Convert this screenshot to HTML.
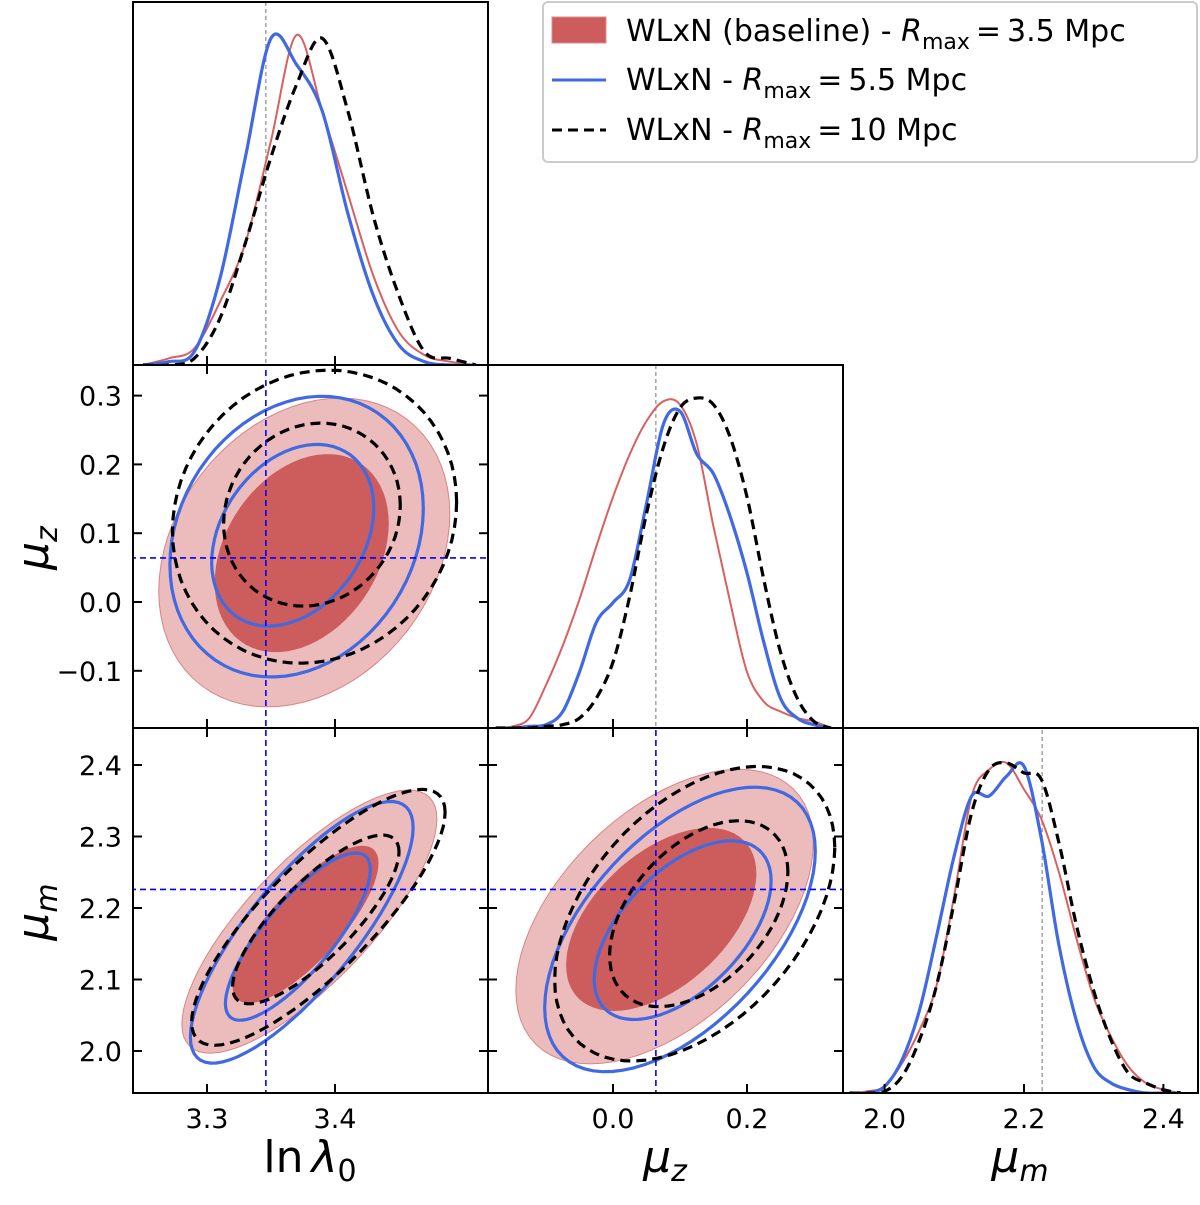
<!DOCTYPE html>
<html><head><meta charset="utf-8"><style>
html,body{margin:0;padding:0;background:#fff;}
svg{display:block;font-family:"DejaVu Sans","Liberation Sans",sans-serif;}
</style></head><body>
<svg id="c" width="1200" height="1205" viewBox="0 0 1200 1205" xmlns="http://www.w3.org/2000/svg">
<defs>
<clipPath id="cp11"><rect x="133" y="2" width="355" height="363"/></clipPath>
<clipPath id="cp21"><rect x="133" y="365" width="355" height="363"/></clipPath>
<clipPath id="cp22"><rect x="488" y="365" width="355" height="363"/></clipPath>
<clipPath id="cp31"><rect x="133" y="728" width="355" height="365"/></clipPath>
<clipPath id="cp32"><rect x="488" y="728" width="355" height="365"/></clipPath>
<clipPath id="cp33"><rect x="843" y="728" width="355" height="365"/></clipPath>
</defs>
<g id="layer"></g>
<g>
<rect x="543" y="2" width="654" height="160" rx="5" fill="#fff" stroke="#cccccc" stroke-width="2"/>
<rect x="552" y="17" width="54" height="26" fill="#cd5c5c" stroke="#e08888"/>
<line x1="552" y1="80" x2="606" y2="80" stroke="#4169e1" stroke-width="3"/>
<line x1="552" y1="130" x2="606" y2="130" stroke="#000" stroke-width="3" stroke-dasharray="10,6"/>
<text x="626" y="41" font-size="30">WLxN (baseline) - <tspan font-style="italic">R</tspan><tspan font-size="22" dy="8">max</tspan><tspan dy="-8" dx="6">=</tspan><tspan dx="6">3.5 Mpc</tspan></text>
<text x="626" y="90" font-size="30">WLxN - <tspan font-style="italic">R</tspan><tspan font-size="22" dy="8">max</tspan><tspan dy="-8" dx="6">=</tspan><tspan dx="6">5.5 Mpc</tspan></text>
<text x="626" y="140" font-size="30">WLxN - <tspan font-style="italic">R</tspan><tspan font-size="22" dy="8">max</tspan><tspan dy="-8" dx="6">=</tspan><tspan dx="6">10 Mpc</tspan></text>
</g>
</svg>
<script>
// ---- data ----
const truthLnL = 3.346;
const truthMuZ = 0.064;
const truthMuM = 2.226;
// 1D marginal grids & densities
const gridLnL = [3.25,3.27,3.29,3.31,3.33,3.35,3.37,3.39,3.41,3.43,3.45,3.47,3.49,3.51];
const lnlRed   = [0,0.02,0.05,0.19,0.37,0.68,1.0,0.77,0.52,0.27,0.10,0.03,0.01,0];
const lnlBlue  = [0,0.01,0.04,0.26,0.63,0.99,0.91,0.77,0.46,0.21,0.06,0.01,0,0];
const lnlBlack = [0,0,0.02,0.14,0.37,0.63,0.85,0.99,0.77,0.45,0.21,0.04,0.02,0];
const gridMuZ = [-0.175,-0.15,-0.125,-0.1,-0.075,-0.05,-0.025,0,0.025,0.05,0.075,0.1,0.125,0.15,0.175,0.2,0.225,0.25,0.275,0.3,0.325];
const muzRed   = [0,0.005,0.03,0.13,0.25,0.39,0.55,0.70,0.83,0.93,0.99,0.98,0.86,0.61,0.38,0.17,0.08,0.05,0.03,0.02,0];
const muzBlue  = [0,0,0.005,0.01,0.05,0.17,0.32,0.38,0.45,0.68,0.92,0.96,0.83,0.77,0.64,0.47,0.26,0.09,0.03,0.01,0];
const muzBlack = [0,0,0,0.005,0.01,0.03,0.09,0.2,0.4,0.65,0.85,0.97,1.0,0.98,0.88,0.70,0.45,0.23,0.09,0.02,0];
const gridMuM = [1.95,1.975,2.0,2.025,2.05,2.075,2.1,2.125,2.15,2.175,2.2,2.225,2.25,2.275,2.3,2.325,2.35,2.375,2.4,2.425];
const mumRed   = [0,0.005,0.02,0.09,0.19,0.33,0.6,0.9,0.98,1.0,0.92,0.83,0.67,0.47,0.29,0.17,0.08,0.03,0.01,0];
const mumBlue  = [0,0,0.02,0.1,0.25,0.48,0.72,0.9,0.9,0.96,0.99,0.77,0.45,0.22,0.08,0.03,0.01,0,0,0];
const mumBlack = [0,0,0.005,0.05,0.16,0.33,0.58,0.85,0.98,1.0,0.97,0.95,0.76,0.51,0.31,0.16,0.06,0.03,0.01,0];
// 2D contours: [centerX, centerY, halfExtentX, halfExtentY, correlation]
const aRedOuter=[3.376,0.072,0.1137,0.2245,0.25], aRedInner=[3.374,0.071,0.068,0.144,0.3];
const aBlueOuter=[3.370,0.095,0.099,0.204,0.2], aBlueInner=[3.367,0.097,0.0633,0.132,0.3];
const aBlackOuter=[3.384,0.124,0.111,0.213,0.1], aBlackInner=[3.382,0.127,0.069,0.133,0.1];
const bRedOuter=[3.380,2.181,0.0996,0.184,0.78], bRedInner=[3.377,2.177,0.057,0.110,0.78];
const bBlueOuter=[3.374,2.166,0.087,0.183,0.8], bBlueInner=[3.371,2.160,0.0566,0.117,0.8];
const bBlackOuter=[3.387,2.187,0.099,0.179,0.82], bBlackInner=[3.385,2.184,0.065,0.118,0.8];
const cRedOuter=[0.077,2.188,0.222,0.206,0.5], cRedInner=[0.072,2.184,0.142,0.128,0.5];
const cBlueOuter=[0.100,2.170,0.202,0.199,0.55], cBlueInner=[0.104,2.169,0.132,0.125,0.55];
const cBlackOuter=[0.122,2.192,0.209,0.206,0.45], cBlackInner=[0.128,2.192,0.133,0.130,0.45];
// ticks
const ticksLnL=[3.3,3.4], ticksLnLLabels=["3.3","3.4"];
const ticksMuZ=[-0.1,0.0,0.1,0.2,0.3], ticksMuZLabels=["\u22120.1","0.0","0.1","0.2","0.3"];
const ticksMuZx=[0.0,0.2], ticksMuZxLabels=["0.0","0.2"];
const ticksMuM=[2.0,2.1,2.2,2.3,2.4], ticksMuMLabels=["2.0","2.1","2.2","2.3","2.4"];
const ticksMuMx=[2.0,2.2,2.4], ticksMuMxLabels=["2.0","2.2","2.4"];

// ---- axes ----
const xL=v=>207+(v-3.3)*1280;
const xZ=v=>613+v*670;
const xM=v=>1024+(v-2.2)*697;
const yZ=v=>602-v*688;
const yM=v=>908-(v-2.2)*715;
const yD=(b)=>d=>b-d*330;

const NS="http://www.w3.org/2000/svg";
const layer=document.getElementById('layer');
function mk(tag,attrs,parent){const e=document.createElementNS(NS,tag);for(const k in attrs)e.setAttribute(k,attrs[k]);(parent||layer).appendChild(e);return e;}

function smoothPath(pts){
  let d=`M${pts[0][0].toFixed(1)},${pts[0][1].toFixed(1)}`;
  for(let i=0;i<pts.length-1;i++){
    const p0=pts[Math.max(0,i-1)],p1=pts[i],p2=pts[i+1],p3=pts[Math.min(pts.length-1,i+2)];
    const c1=[p1[0]+(p2[0]-p0[0])/6,p1[1]+(p2[1]-p0[1])/6];
    const c2=[p2[0]-(p3[0]-p1[0])/6,p2[1]-(p3[1]-p1[1])/6];
    d+=`C${c1[0].toFixed(1)},${c1[1].toFixed(1)} ${c2[0].toFixed(1)},${c2[1].toFixed(1)} ${p2[0].toFixed(1)},${p2[1].toFixed(1)}`;
  }
  return d;
}
function ellipsePath(p,fx,fy){
  const [cx,cy,hx,hy,r]=p;const s=Math.sqrt(1-r*r);let d='';
  for(let i=0;i<=72;i++){const t=i/72*2*Math.PI;
    const x=fx(cx+hx*Math.cos(t)), y=fy(cy+hy*(r*Math.cos(t)+s*Math.sin(t)));
    d+=(i?'L':'M')+x.toFixed(1)+','+y.toFixed(1);}
  return d+'Z';
}
const STY={
  red:{stroke:'#d9605f','stroke-width':2,fill:'none'},
  blue:{stroke:'#4169e1','stroke-width':3.2,fill:'none'},
  black:{stroke:'#000','stroke-width':3.2,fill:'none','stroke-dasharray':'10,6'}
};

function panel1D(clip,name,grid,series,fx,bottom,truthX){
  const g=mk('g',{'clip-path':`url(#${clip})`});
  
  
  const tl=mk('line',{x1:fx(truthX),x2:fx(truthX),y1:bottom-370,y2:bottom,stroke:'#777','stroke-width':1,'stroke-dasharray':'4,3'},g);
  
  
  const fy=yD(bottom);
  series.forEach(([key,vals])=>{
    const pts=grid.map((x,i)=>[fx(x),fy(vals[i])]);
    const p=mk('path',Object.assign({d:smoothPath(pts)},STY[key]),g);
    
    
  });
}
function panel2D(clip,name,fx,fy,red,blue,black,tx,ty){
  const g=mk('g',{'clip-path':`url(#${clip})`});
  
  
  const ro=mk('path',{d:ellipsePath(red[0],fx,fy),fill:'#ecbcbc',stroke:'#d98484','stroke-width':1},g);
  
  
  const ri=mk('path',{d:ellipsePath(red[1],fx,fy),fill:'#cd5c5c',stroke:'none'},g);
  
  
  [['blue',blue],['black',black]].forEach(([k,arr])=>{
    arr.forEach((c,i)=>{
      const p=mk('path',Object.assign({d:ellipsePath(c,fx,fy)},STY[k]),g);
      
      
    });
  });
  if(tx!==null){const l=mk('line',{x1:fx(tx),x2:fx(tx),y1:0,y2:1200,stroke:'#0000ff','stroke-width':1.6,'stroke-dasharray':'6,4'},g);
    
    }
  if(ty!==null){const l=mk('line',{x1:0,x2:1200,y1:fy(ty),y2:fy(ty),stroke:'#0000ff','stroke-width':1.6,'stroke-dasharray':'6,4'},g);
    
    }
}

panel1D('cp11','panel-lnlambda-1d',gridLnL,[['red',lnlRed],['blue',lnlBlue],['black',lnlBlack]],xL,365,truthLnL);
panel1D('cp22','panel-muz-1d',gridMuZ,[['red',muzRed],['blue',muzBlue],['black',muzBlack]],xZ,728,truthMuZ);
panel1D('cp33','panel-mum-1d',gridMuM,[['red',mumRed],['blue',mumBlue],['black',mumBlack]],xM,1093,truthMuM);
panel2D('cp21','panel-lnlambda-muz',xL,yZ,[aRedOuter,aRedInner],[aBlueOuter,aBlueInner],[aBlackOuter,aBlackInner],truthLnL,truthMuZ);
panel2D('cp31','panel-lnlambda-mum',xL,yM,[bRedOuter,bRedInner],[bBlueOuter,bBlueInner],[bBlackOuter,bBlackInner],truthLnL,truthMuM);
panel2D('cp32','panel-muz-mum',xZ,yM,[cRedOuter,cRedInner],[cBlueOuter,cBlueInner],[cBlackOuter,cBlackInner],truthMuZ,truthMuM);

// frames & ticks
const boxes=[[133,2,488,365,'frame-lnlambda-1d'],[133,365,488,728,'frame-lnlambda-muz'],[488,365,843,728,'frame-muz-1d'],
 [133,728,488,1093,'frame-lnlambda-mum'],[488,728,843,1093,'frame-muz-mum'],[843,728,1198,1093,'frame-mum-1d']];
boxes.forEach(b=>{const r=mk('rect',{x:b[0],y:b[1],width:b[2]-b[0],height:b[3]-b[1],fill:'none',stroke:'#000','stroke-width':2});
  
  });
function xticks(vals,fx,top,bot,both){vals.forEach(v=>{const x=fx(v);
  const t=mk('line',{x1:x,x2:x,y1:bot,y2:bot-9,stroke:'#000','stroke-width':2});
  
  
  if(both){const t2=mk('line',{x1:x,x2:x,y1:top,y2:top+9,stroke:'#000','stroke-width':2});
    
    }});}
function yticks(vals,fy,l,r){vals.forEach(v=>{const y=fy(v);
  const t=mk('line',{x1:l,x2:l+9,y1:y,y2:y,stroke:'#000','stroke-width':2});
  
  
  const t2=mk('line',{x1:r,x2:r-9,y1:y,y2:y,stroke:'#000','stroke-width':2});
  
  });}
xticks(ticksLnL,xL,2,365,false);
xticks(ticksLnL,xL,365,728,true);
xticks(ticksLnL,xL,728,1093,true);
xticks(ticksMuZx,xZ,365,728,false);
xticks(ticksMuZx,xZ,728,1093,true);
xticks(ticksMuMx,xM,728,1093,false);
yticks(ticksMuZ,yZ,133,488);
yticks(ticksMuM,yM,133,488);
yticks(ticksMuM,yM,488,843);

function label(x,y,txt,anchor,size,name){const t=mk('text',{x:x,y:y,'text-anchor':anchor,'font-size':size,fill:'#000'});t.textContent=txt;
  
  return t;}
ticksMuZ.forEach((v,i)=>label(122,yZ(v)+10,ticksMuZLabels[i],'end',27,'y-tick-label-muz'));
ticksMuM.forEach((v,i)=>label(122,yM(v)+10,ticksMuMLabels[i],'end',27,'y-tick-label-mum'));
ticksLnL.forEach((v,i)=>label(xL(v),1128,ticksLnLLabels[i],'middle',27,'x-tick-label-lnlambda'));
ticksMuZx.forEach((v,i)=>label(xZ(v),1128,ticksMuZxLabels[i],'middle',27,'x-tick-label-muz'));
ticksMuMx.forEach((v,i)=>label(xM(v),1128,ticksMuMxLabels[i],'middle',27,'x-tick-label-mum'));

// axis titles
const xt1=mk('text',{x:310,y:1172,'text-anchor':'middle','font-size':44});
xt1.innerHTML='ln<tspan font-style="italic" dx="8">λ</tspan><tspan font-size="30" dy="9">0</tspan>';


const xt2=mk('text',{x:665,y:1172,'text-anchor':'middle','font-size':44,'font-style':'italic'});
xt2.innerHTML='μ<tspan font-size="30" dy="9">z</tspan>';


const xt3=mk('text',{x:1020,y:1172,'text-anchor':'middle','font-size':44,'font-style':'italic'});
xt3.innerHTML='μ<tspan font-size="30" dy="9">m</tspan>';


const yt1=mk('text',{x:0,y:0,'text-anchor':'middle','font-size':44,'font-style':'italic',transform:'translate(48,548) rotate(-90)'});
yt1.innerHTML='μ<tspan font-size="30" dy="9">z</tspan>';


const yt2=mk('text',{x:0,y:0,'text-anchor':'middle','font-size':44,'font-style':'italic',transform:'translate(48,912) rotate(-90)'});
yt2.innerHTML='μ<tspan font-size="30" dy="9">m</tspan>';


</script>
</body></html>
